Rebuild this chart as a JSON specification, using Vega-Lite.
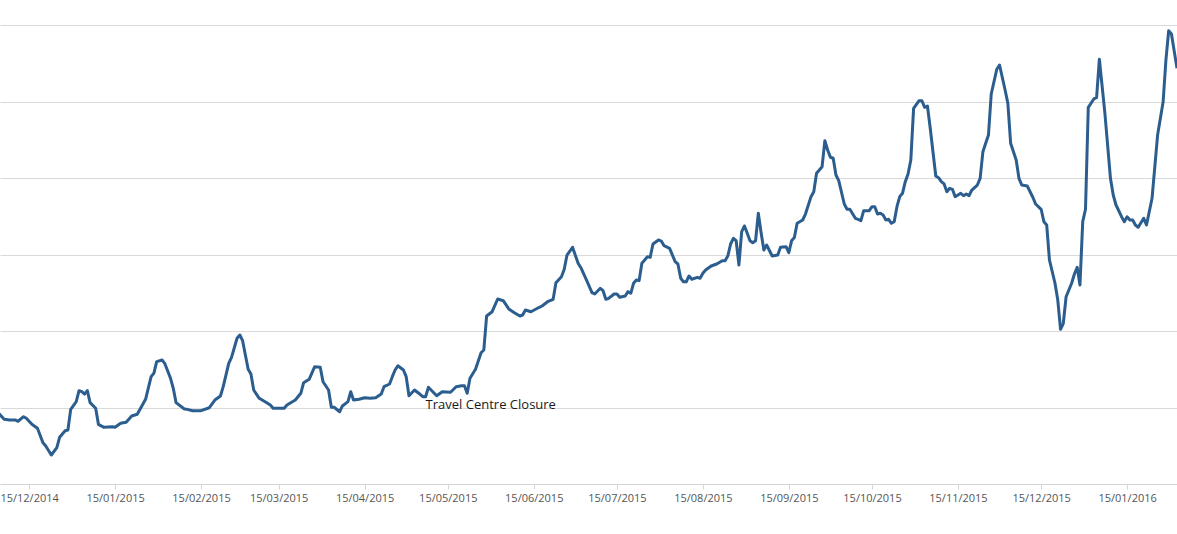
{
  "$schema": "https://vega.github.io/schema/vega-lite/v6.json",
  "width": 1177,
  "height": 484,
  "padding": {"left": 0, "top": 0, "right": 0, "bottom": 50},
  "autosize": {"type": "none"},
  "background": "white",
  "config": {"view": {"stroke": null}},
  "layer": [
    {
      "data": {"values": [
        {"date":"2014-12-04","value":92.4},{"date":"2014-12-06","value":84.6},{"date":"2014-12-08","value":83.7},{"date":"2014-12-10","value":83.7},{"date":"2014-12-11","value":82.0},{"date":"2014-12-13","value":88.0},{"date":"2014-12-14","value":85.9},{"date":"2014-12-16","value":78.0},{"date":"2014-12-18","value":72.8},{"date":"2014-12-20","value":54.0},{"date":"2014-12-21","value":49.7},{"date":"2014-12-23","value":37.9},{"date":"2014-12-25","value":47.5},{"date":"2014-12-26","value":61.0},{"date":"2014-12-28","value":69.7},{"date":"2014-12-29","value":70.6},{"date":"2014-12-30","value":97.6},
        {"date":"2015-01-01","value":107.6},{"date":"2015-01-02","value":122.0},{"date":"2015-01-03","value":120.7},{"date":"2015-01-04","value":117.6},{"date":"2015-01-05","value":122.0},{"date":"2015-01-06","value":106.3},{"date":"2015-01-08","value":99.0},{"date":"2015-01-09","value":78.0},{"date":"2015-01-11","value":74.1},{"date":"2015-01-14","value":74.9},{"date":"2015-01-15","value":74.1},{"date":"2015-01-17","value":79.3},{"date":"2015-01-19","value":80.7},{"date":"2015-01-21","value":88.9},{"date":"2015-01-23","value":91.1},{"date":"2015-01-26","value":110.7},{"date":"2015-01-28","value":140.3},{"date":"2015-01-29","value":144.7},{"date":"2015-01-30","value":159.9},
        {"date":"2015-02-01","value":162.1},{"date":"2015-02-02","value":156.9},{"date":"2015-02-04","value":138.2},{"date":"2015-02-05","value":125.1},{"date":"2015-02-06","value":106.3},{"date":"2015-02-09","value":98.0},{"date":"2015-02-10","value":97.6},{"date":"2015-02-12","value":95.8},{"date":"2015-02-15","value":95.8},{"date":"2015-02-18","value":99.7},{"date":"2015-02-20","value":109.8},{"date":"2015-02-22","value":115.0},{"date":"2015-02-23","value":127.2},{"date":"2015-02-25","value":157.8},{"date":"2015-02-26","value":165.6},{"date":"2015-02-28","value":190.5},
        {"date":"2015-03-01","value":194.8},{"date":"2015-03-02","value":187.3},{"date":"2015-03-04","value":149.9},{"date":"2015-03-05","value":143.8},{"date":"2015-03-06","value":122.9},{"date":"2015-03-08","value":112.0},{"date":"2015-03-11","value":105.5},{"date":"2015-03-12","value":103.3},{"date":"2015-03-13","value":99.0},{"date":"2015-03-17","value":99.0},{"date":"2015-03-18","value":103.3},{"date":"2015-03-21","value":109.8},{"date":"2015-03-23","value":118.6},{"date":"2015-03-24","value":132.4},{"date":"2015-03-26","value":136.9},{"date":"2015-03-28","value":153.3},{"date":"2015-03-30","value":152.5},{"date":"2015-03-31","value":133.7},
        {"date":"2015-04-02","value":122.9},{"date":"2015-04-03","value":100.3},{"date":"2015-04-04","value":100.3},{"date":"2015-04-06","value":94.5},{"date":"2015-04-07","value":102.0},{"date":"2015-04-09","value":107.6},{"date":"2015-04-10","value":120.7},{"date":"2015-04-11","value":109.8},{"date":"2015-04-13","value":110.7},{"date":"2015-04-15","value":112.8},{"date":"2015-04-17","value":112.0},{"date":"2015-04-19","value":112.8},{"date":"2015-04-21","value":117.6},{"date":"2015-04-22","value":127.2},{"date":"2015-04-24","value":130.7},{"date":"2015-04-25","value":140.3},{"date":"2015-04-26","value":149.0},{"date":"2015-04-27","value":154.6},{"date":"2015-04-29","value":149.0},{"date":"2015-04-30","value":140.3},
        {"date":"2015-05-01","value":115.4},{"date":"2015-05-03","value":122.9},{"date":"2015-05-05","value":117.3},{"date":"2015-05-06","value":114.1},{"date":"2015-05-07","value":114.1},{"date":"2015-05-08","value":126.4},{"date":"2015-05-11","value":115.4},{"date":"2015-05-13","value":120.7},{"date":"2015-05-16","value":119.9},{"date":"2015-05-18","value":127.2},{"date":"2015-05-20","value":128.5},{"date":"2015-05-21","value":128.5},{"date":"2015-05-22","value":118.6},{"date":"2015-05-23","value":138.2},{"date":"2015-05-25","value":149.9},{"date":"2015-05-26","value":160.8},{"date":"2015-05-27","value":171.6},{"date":"2015-05-28","value":175.2},{"date":"2015-05-29","value":219.6},{"date":"2015-05-31","value":225.2},
        {"date":"2015-06-02","value":241.8},{"date":"2015-06-04","value":239.6},{"date":"2015-06-06","value":228.8},{"date":"2015-06-08","value":223.9},{"date":"2015-06-10","value":219.6},{"date":"2015-06-11","value":220.9},{"date":"2015-06-12","value":227.5},{"date":"2015-06-14","value":225.2},{"date":"2015-06-17","value":231.0},{"date":"2015-06-18","value":232.7},{"date":"2015-06-20","value":238.3},{"date":"2015-06-22","value":241.4},{"date":"2015-06-23","value":263.1},{"date":"2015-06-25","value":271.0},{"date":"2015-06-26","value":280.7},{"date":"2015-06-27","value":299.3},{"date":"2015-06-29","value":309.4},
        {"date":"2015-07-01","value":288.5},{"date":"2015-07-02","value":282.7},{"date":"2015-07-04","value":266.7},{"date":"2015-07-06","value":250.1},{"date":"2015-07-07","value":248.4},{"date":"2015-07-09","value":255.8},{"date":"2015-07-10","value":252.7},{"date":"2015-07-11","value":241.4},{"date":"2015-07-12","value":242.7},{"date":"2015-07-14","value":248.4},{"date":"2015-07-15","value":248.4},{"date":"2015-07-16","value":244.1},{"date":"2015-07-18","value":245.8},{"date":"2015-07-19","value":251.4},{"date":"2015-07-20","value":249.3},{"date":"2015-07-21","value":262.4},{"date":"2015-07-22","value":266.7},{"date":"2015-07-23","value":265.8},{"date":"2015-07-24","value":288.5},{"date":"2015-07-26","value":297.1},{"date":"2015-07-27","value":296.3},{"date":"2015-07-28","value":313.7},{"date":"2015-07-30","value":319.0},{"date":"2015-07-31","value":317.6},
        {"date":"2015-08-01","value":311.5},{"date":"2015-08-03","value":308.1},{"date":"2015-08-05","value":290.6},{"date":"2015-08-06","value":287.6},{"date":"2015-08-07","value":268.9},{"date":"2015-08-08","value":264.4},{"date":"2015-08-09","value":264.4},{"date":"2015-08-10","value":271.9},{"date":"2015-08-11","value":267.6},{"date":"2015-08-13","value":270.2},{"date":"2015-08-14","value":268.9},{"date":"2015-08-15","value":275.4},{"date":"2015-08-16","value":279.7},{"date":"2015-08-18","value":285.0},{"date":"2015-08-20","value":287.6},{"date":"2015-08-22","value":291.9},{"date":"2015-08-23","value":291.9},{"date":"2015-08-24","value":298.0},{"date":"2015-08-25","value":313.7},{"date":"2015-08-26","value":321.2},{"date":"2015-08-27","value":318.0},{"date":"2015-08-28","value":286.3},{"date":"2015-08-29","value":329.8},{"date":"2015-08-30","value":337.3},{"date":"2015-08-31","value":327.7},
        {"date":"2015-09-01","value":318.0},{"date":"2015-09-02","value":315.4},{"date":"2015-09-03","value":318.0},{"date":"2015-09-04","value":353.9},{"date":"2015-09-05","value":328.5},{"date":"2015-09-06","value":305.9},{"date":"2015-09-07","value":312.4},{"date":"2015-09-09","value":298.0},{"date":"2015-09-11","value":299.3},{"date":"2015-09-12","value":309.4},{"date":"2015-09-14","value":310.2},{"date":"2015-09-15","value":302.4},{"date":"2015-09-16","value":318.0},{"date":"2015-09-17","value":322.2},{"date":"2015-09-18","value":340.8},{"date":"2015-09-20","value":345.1},{"date":"2015-09-21","value":352.9},{"date":"2015-09-23","value":375.6},{"date":"2015-09-24","value":382.1},{"date":"2015-09-25","value":406.1},{"date":"2015-09-27","value":414.8},{"date":"2015-09-28","value":448.8},{"date":"2015-09-29","value":436.6},{"date":"2015-09-30","value":427.1},
        {"date":"2015-10-01","value":425.8},{"date":"2015-10-02","value":403.9},{"date":"2015-10-03","value":396.5},{"date":"2015-10-05","value":366.0},{"date":"2015-10-06","value":359.1},{"date":"2015-10-07","value":359.1},{"date":"2015-10-09","value":347.3},{"date":"2015-10-10","value":346.0},{"date":"2015-10-11","value":344.2},{"date":"2015-10-12","value":357.3},{"date":"2015-10-14","value":357.3},{"date":"2015-10-15","value":362.5},{"date":"2015-10-16","value":362.5},{"date":"2015-10-17","value":352.9},{"date":"2015-10-18","value":353.9},{"date":"2015-10-19","value":351.6},{"date":"2015-10-20","value":345.1},{"date":"2015-10-21","value":346.0},{"date":"2015-10-22","value":340.8},{"date":"2015-10-23","value":342.9},{"date":"2015-10-24","value":362.5},{"date":"2015-10-25","value":375.6},{"date":"2015-10-26","value":380.0},{"date":"2015-10-27","value":395.2},{"date":"2015-10-28","value":405.2},{"date":"2015-10-29","value":423.5},{"date":"2015-10-30","value":491.1},
        {"date":"2015-11-01","value":501.0},{"date":"2015-11-02","value":501.0},{"date":"2015-11-03","value":492.4},{"date":"2015-11-04","value":494.1},{"date":"2015-11-05","value":465.0},{"date":"2015-11-07","value":402.6},{"date":"2015-11-08","value":400.4},{"date":"2015-11-09","value":395.2},{"date":"2015-11-10","value":392.2},{"date":"2015-11-11","value":382.1},{"date":"2015-11-12","value":386.5},{"date":"2015-11-13","value":385.2},{"date":"2015-11-14","value":375.6},{"date":"2015-11-16","value":380.0},{"date":"2015-11-17","value":376.9},{"date":"2015-11-18","value":379.1},{"date":"2015-11-19","value":376.9},{"date":"2015-11-20","value":384.3},{"date":"2015-11-22","value":390.8},{"date":"2015-11-23","value":399.6},{"date":"2015-11-24","value":434.4},{"date":"2015-11-25","value":445.4},{"date":"2015-11-26","value":456.2},{"date":"2015-11-27","value":509.8},{"date":"2015-11-29","value":542.1},{"date":"2015-11-30","value":547.7},
        {"date":"2015-12-02","value":515.0},{"date":"2015-12-03","value":497.6},{"date":"2015-12-04","value":445.4},{"date":"2015-12-06","value":423.5},{"date":"2015-12-07","value":399.6},{"date":"2015-12-08","value":390.8},{"date":"2015-12-10","value":389.5},{"date":"2015-12-12","value":374.8},{"date":"2015-12-13","value":366.0},{"date":"2015-12-15","value":359.1},{"date":"2015-12-16","value":342.9},{"date":"2015-12-17","value":338.6},{"date":"2015-12-18","value":292.8},{"date":"2015-12-20","value":262.4},{"date":"2015-12-21","value":240.5},{"date":"2015-12-22","value":202.2},{"date":"2015-12-23","value":210.1},{"date":"2015-12-24","value":244.8},{"date":"2015-12-26","value":262.4},{"date":"2015-12-27","value":274.5},{"date":"2015-12-28","value":283.3},{"date":"2015-12-29","value":260.1},{"date":"2015-12-30","value":342.9},{"date":"2015-12-31","value":359.1},
        {"date":"2016-01-01","value":492.4},{"date":"2016-01-03","value":503.3},{"date":"2016-01-04","value":505.0},{"date":"2016-01-05","value":555.2},{"date":"2016-01-07","value":484.6},{"date":"2016-01-09","value":399.6},{"date":"2016-01-10","value":377.8},{"date":"2016-01-11","value":364.7},{"date":"2016-01-13","value":349.4},{"date":"2016-01-14","value":342.9},{"date":"2016-01-15","value":349.4},{"date":"2016-01-16","value":345.1},{"date":"2016-01-17","value":345.1},{"date":"2016-01-18","value":338.6},{"date":"2016-01-19","value":335.6},{"date":"2016-01-21","value":347.3},{"date":"2016-01-22","value":338.6},{"date":"2016-01-24","value":373.5},{"date":"2016-01-26","value":456.2},{"date":"2016-01-28","value":499.7},{"date":"2016-01-29","value":554.2},{"date":"2016-01-30","value":592.5},{"date":"2016-01-31","value":588.2},{"date":"2016-02-02","value":543.4}
      ]},
      "mark": {"type": "line", "color": "#2b5e8e", "strokeWidth": 3, "strokeJoin": "round", "clip": true},
      "encoding": {
        "x": {
          "field": "date", "type": "temporal", "title": null,
          "scale": {"domain": [{"year": 2014, "month": 12, "date": 4, "hours": 12, "utc": true}, {"year": 2016, "month": 2, "date": 2, "utc": true}]},
          "axis": {
            "values": [
              {"year": 2014, "month": 12, "date": 15, "utc": true},
              {"year": 2015, "month": 1, "date": 15, "utc": true},
              {"year": 2015, "month": 2, "date": 15, "utc": true},
              {"year": 2015, "month": 3, "date": 15, "utc": true},
              {"year": 2015, "month": 4, "date": 15, "utc": true},
              {"year": 2015, "month": 5, "date": 15, "utc": true},
              {"year": 2015, "month": 6, "date": 15, "utc": true},
              {"year": 2015, "month": 7, "date": 15, "utc": true},
              {"year": 2015, "month": 8, "date": 15, "utc": true},
              {"year": 2015, "month": 9, "date": 15, "utc": true},
              {"year": 2015, "month": 10, "date": 15, "utc": true},
              {"year": 2015, "month": 11, "date": 15, "utc": true},
              {"year": 2015, "month": 12, "date": 15, "utc": true},
              {"year": 2016, "month": 1, "date": 15, "utc": true}
            ],
            "labelExpr": "utcFormat(datum.value, '%d/%m/%Y')",
            "grid": false,
            "domainColor": "#d4d4d4",
            "tickColor": "#d4d4d4",
            "tickSize": 5,
            "labelPadding": 3,
            "labelFont": "Open Sans",
            "labelFontSize": 11,
            "labelColor": "#555555",
            "labelOverlap": false,
            "labelFlush": false
          }
        },
        "y": {
          "field": "value", "type": "quantitative", "title": null,
          "scale": {"domain": [0, 632.68], "nice": false, "zero": false},
          "axis": {
            "values": [100, 200, 300, 400, 500, 600],
            "labels": false, "ticks": false, "domain": false,
            "grid": true, "gridColor": "#d9d9d9", "gridWidth": 1
          }
        }
      }
    },
    {
      "data": {"values": [{"date": "2015-05-07", "value": 98, "label": "Travel Centre Closure"}]},
      "mark": {"type": "text", "align": "left", "baseline": "alphabetic", "font": "Open Sans", "fontSize": 13, "color": "#1a1a1a"},
      "encoding": {
        "x": {"field": "date", "type": "temporal"},
        "y": {"field": "value", "type": "quantitative"},
        "text": {"field": "label"}
      }
    }
  ]
}
